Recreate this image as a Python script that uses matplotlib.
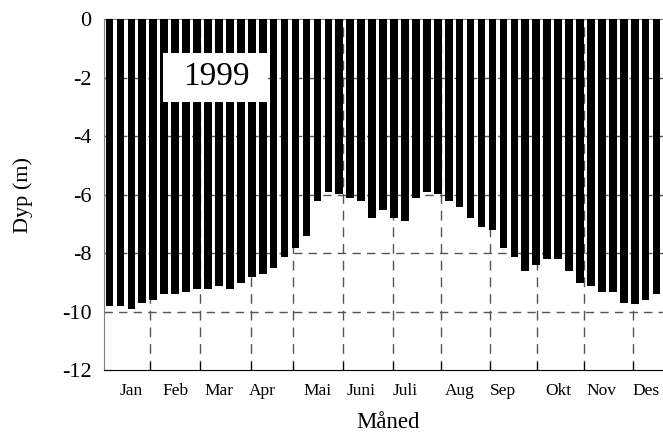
import matplotlib
matplotlib.use("Agg")
import matplotlib.pyplot as plt
from matplotlib.patches import Rectangle
from matplotlib.ticker import FixedLocator

plt.rcParams["font.family"] = ["Liberation Serif", "DejaVu Serif"]
plt.rcParams["axes.unicode_minus"] = False

# weekly depth readings, 1999 (m, negative = below surface)
depth = [-9.81, -9.81, -9.91, -9.72, -9.62, -9.41, -9.41, -9.32, -9.22, -9.22,
         -9.13, -9.22, -9.01, -8.83, -8.73, -8.51, -8.13, -7.83, -7.42, -6.21,
         -5.93, -5.99, -6.11, -6.21, -6.81, -6.53, -6.81, -6.91, -6.13, -5.93,
         -5.99, -6.22, -6.42, -6.81, -7.12, -7.21, -7.83, -8.13, -8.63, -8.41,
         -8.22, -8.22, -8.62, -9.01, -9.13, -9.32, -9.32, -9.72, -9.74, -9.61,
         -9.41]
weeks = list(range(len(depth)))

# month labels sit on a week, month boundaries between weeks
month_labels = ["Jan", "Feb", "Mar", "Apr", "Mai", "Juni",
                "Juli", "Aug", "Sep", "Okt", "Nov", "Des"]
month_label_week = [2, 6, 10, 14, 19, 23, 27, 32, 36, 41, 45, 49]
month_bounds = [3.71, 8.28, 12.95, 16.76, 21.32, 25.94,
                30.28, 34.81, 39.09, 43.32, 47.87]

y_ticks = [0, -2, -4, -6, -8, -10, -12]

fig = plt.figure(figsize=(6.63, 4.32), dpi=100)
ax = fig.add_axes([0.1569, 0.1435, 0.8582, 0.8125])

ax.bar(weeks, depth, width=0.7, color="black", zorder=3)

ax.set_xlim(-0.5, 51.5)
ax.set_ylim(-12, 0)
ax.set_yticks(y_ticks)
ax.set_yticklabels([str(v) for v in y_ticks])

ax.set_xticks(month_label_week)
ax.set_xticklabels(month_labels)
ax.xaxis.set_minor_locator(FixedLocator(month_bounds))
ax.tick_params(axis="x", which="major", length=0, pad=9, labelsize=12.5)
ax.tick_params(axis="x", which="minor", direction="in", length=5.5, width=0.8)
ax.tick_params(axis="y", direction="in", length=5.5, width=0.8, pad=9,
               labelsize=16, color="#555555")

# dashed grid behind the bars
ax.set_axisbelow(True)
for v in y_ticks[1:-1]:
    ax.axhline(v, color="#555555", lw=1, dashes=(6, 4.5), zorder=1)
ax.grid(True, axis="x", which="minor", color="#555555", lw=1,
        dashes=(7, 5), zorder=1)

for side in ("left", "top"):
    ax.spines[side].set_color("#808080")
ax.spines["bottom"].set_color("black")
ax.spines["right"].set_visible(False)

ax.set_ylabel("Dyp (m)", fontsize=16)
ax.yaxis.set_label_coords(-0.125, 0.5)
ax.set_xlabel("Måned", fontsize=16.5)
ax.xaxis.set_label_coords(0.5, -0.119)

# year tag in a white box
ax.add_patch(Rectangle((0.1037, 0.7635), 0.1845, 0.1396, transform=ax.transAxes,
                       fc="white", ec="none", zorder=4))
ax.text(0.197, 0.835, "1999", transform=ax.transAxes, fontsize=24,
        ha="center", va="center", zorder=5)

plt.savefig("out.png", dpi=100)
